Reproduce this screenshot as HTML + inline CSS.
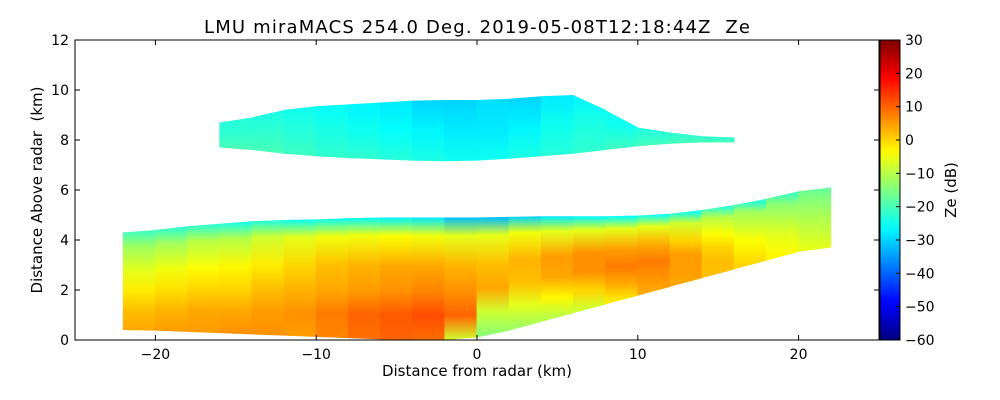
<!DOCTYPE html>
<html><head><meta charset="utf-8">
<style>
html,body{margin:0;padding:0;background:#fff;}
svg{display:block;font-family:"DejaVu Sans","Liberation Sans",sans-serif;}
</style></head>
<body>
<svg id="chart" width="1000" height="400" viewBox="0 0 1000 400">
<defs id="defs"></defs>
<text x="477" y="33" font-size="18" text-anchor="middle" textLength="546" xml:space="preserve">LMU miraMACS 254.0 Deg. 2019-05-08T12:18:44Z&#160;&#160;Ze</text>
<g id="plot"></g>
<g id="axes"></g>
<text x="477" y="376" font-size="15" text-anchor="middle">Distance from radar (km)</text>
<text transform="translate(42,190) rotate(-90)" font-size="15" text-anchor="middle" xml:space="preserve">Distance Above radar&#160;&#160;(km)</text>
<g id="cbar"></g>
<text transform="translate(956,190) rotate(-90)" font-size="15" text-anchor="middle">Ze (dB)</text>
</svg>
<script>
// ---- data ----
const xTicks = [-20,-10,0,10,20];
const yTicks = [0,2,4,6,8,10,12];
const cbTicks = [30,20,10,0,-10,-20,-30,-40,-50,-60];
// lower layer columns (km); Ze stops at fractions of column height
const lowStops = [0,0.2,0.4,0.6,0.85,1];
const lowX   = [-21,-19,-17,-15,-13,-11,-9,-7,-5,-3,-1,1,3,5,7,9,11,13,15,17,19,21];
const lowBot = [0.4,0.35,0.3,0.25,0.2,0.15,0.1,0.05,0,0,0,0.2,0.55,0.9,1.25,1.6,1.95,2.3,2.65,3.0,3.35,3.7];
const lowTop = [4.3,4.5,4.6,4.7,4.8,4.8,4.85,4.9,4.9,4.9,4.9,4.9,4.95,4.95,4.95,4.95,5.0,5.1,5.3,5.5,5.8,6.1];
const lowZe  = [[4,2,-2,-6,-12,-20],[5,3,-1,-5,-12,-22],[5,4,0,-4,-10,-22],[6,4,0,-3,-10,-24],
  [6,5,2,-2,-8,-24],[5,6,3,0,-6,-25],[7,8,4,2,-5,-25],[9,10,5,3,-5,-26],[10,11,6,4,-4,-27],
  [9,12,7,4,-5,-28],[-8,10,6,3,-6,-32],[-14,-8,4,2,-6,-32],[-12,-6,2,3,-5,-30],[-10,-3,4,5,-6,-28],
  [-8,0,6,6,-6,-27],[-2,4,8,5,-6,-26],[4,6,8,4,-6,-25],[4,5,5,0,-8,-24],[2,2,0,-4,-10,-22],
  [0,-2,-4,-8,-12,-22],[-3,-5,-7,-10,-14,-20],[-6,-8,-10,-12,-15,-18]];
// upper layer columns
const upStops = [0,0.5,1];
const upX   = [-15,-13,-11,-9,-7,-5,-3,-1,1,3,5,7,9,11,13,15];
const upBot = [7.7,7.5,7.4,7.3,7.25,7.2,7.15,7.15,7.2,7.3,7.4,7.5,7.7,7.8,7.9,7.9];
const upTop = [8.7,9.1,9.3,9.4,9.45,9.55,9.6,9.6,9.6,9.7,9.8,9.8,8.6,8.4,8.2,8.1];
const upZe  = [[-20,-22,-23],[-20,-22,-24],[-21,-23,-25],[-22,-24,-26],[-22,-25,-27],[-23,-26,-28],
  [-24,-27,-30],[-25,-28,-30],[-25,-28,-29],[-24,-27,-30],[-23,-25,-28],[-22,-24,-27],[-21,-23,-25],
  [-20,-22,-23],[-20,-21,-22],[-20,-21,-22]];

// ---- scales ----
const X0=75,X1=879,Y0=40,Y1=340;
const sx = v => X0 + (v+25)/50*(X1-X0);
const sy = v => Y1 - v/12*(Y1-Y0);
const ZMIN=-60,ZMAX=30;
function jet(z){
  let t=(z-ZMIN)/(ZMAX-ZMIN); t=Math.max(0,Math.min(1,t));
  const c=v=>Math.round(255*Math.max(0,Math.min(1,v)));
  return `rgb(${c(1.5-Math.abs(4*t-3))},${c(1.5-Math.abs(4*t-2))},${c(1.5-Math.abs(4*t-1))})`;
}
const NS='http://www.w3.org/2000/svg';
const mk=(t,a)=>{const e=document.createElementNS(NS,t);for(const k in a)e.setAttribute(k,a[k]);return e;};
const defs=document.getElementById('defs');
const plot=document.getElementById('plot');
let gid=0;
function drawLayer(xs,bots,tops,zes,stops,name){
  const n=xs.length;
  const edge=(arr,i,side)=>{const j=i+side; return (j<0||j>=n)?arr[i]:(arr[i]+arr[j])/2;};
  xs.forEach((cx,i)=>{
    const id='g'+(gid++);
    const g=mk('linearGradient',{id:id,gradientUnits:'userSpaceOnUse',x1:0,y1:sy(bots[i]),x2:0,y2:sy(tops[i])});
    zes[i].forEach((z,k)=>g.appendChild(mk('stop',{offset:stops[k],'stop-color':jet(z)})));
    defs.appendChild(g);
    const xa=sx(cx-1)-0.4, xb=sx(cx+1)+0.4;
    const pts=[[xa,sy(edge(bots,i,-1))],[xb,sy(edge(bots,i,1))],[xb,sy(edge(tops,i,1))],[xa,sy(edge(tops,i,-1))]];
    const p=mk('polygon',{points:pts.map(q=>q.join(',')).join(' '),fill:`url(#${id})`});
    
    
    plot.appendChild(p);
  });
}
drawLayer(lowX,lowBot,lowTop,lowZe,lowStops,'lower-layer-column');
drawLayer(upX,upBot,upTop,upZe,upStops,'upper-layer-column');

// ---- axes ----
const axes=document.getElementById('axes');
const frame=mk('rect',{x:X0,y:Y0,width:X1-X0,height:Y1-Y0,fill:'none',stroke:'#000','stroke-width':1});


axes.appendChild(frame);
xTicks.forEach(v=>{
  const x=sx(v);
  axes.appendChild(mk('line',{x1:x,x2:x,y1:Y1,y2:Y1-5,stroke:'#000'}));
  axes.appendChild(mk('line',{x1:x,x2:x,y1:Y0,y2:Y0+5,stroke:'#000'}));
  const t=mk('text',{x:x,y:Y1+19,'font-size':14,'text-anchor':'middle'});
  t.textContent=(v<0?'\u2212'+(-v):v);
  
  
  axes.appendChild(t);
});
yTicks.forEach(v=>{
  const y=sy(v);
  axes.appendChild(mk('line',{x1:X0,x2:X0+5,y1:y,y2:y,stroke:'#000'}));
  axes.appendChild(mk('line',{x1:X1,x2:X1-5,y1:y,y2:y,stroke:'#000'}));
  const t=mk('text',{x:X0-6,y:y+5,'font-size':14,'text-anchor':'end'});
  t.textContent=v;
  
  
  axes.appendChild(t);
});

// ---- colorbar ----
const cb=document.getElementById('cbar');
const CX0=880,CX1=900;
const cg=mk('linearGradient',{id:'cbg',x1:0,y1:1,x2:0,y2:0});
for(let i=0;i<=30;i++){const z=ZMIN+(ZMAX-ZMIN)*i/30;cg.appendChild(mk('stop',{offset:i/30,'stop-color':jet(z)}));}
defs.appendChild(cg);
const cr=mk('rect',{x:CX0,y:Y0,width:CX1-CX0,height:Y1-Y0,fill:'url(#cbg)',stroke:'#000','stroke-width':1});


cb.appendChild(cr);
const cy=z=>Y1-(z-ZMIN)/(ZMAX-ZMIN)*(Y1-Y0);
cbTicks.forEach(v=>{
  const y=cy(v);
  cb.appendChild(mk('line',{x1:CX1-4,x2:CX1,y1:y,y2:y,stroke:'#000'}));
  const t=mk('text',{x:CX1+5,y:y+5,'font-size':14});
  t.textContent=(v<0?'\u2212'+(-v):v);
  
  
  cb.appendChild(t);
});
</script>
</body></html>
